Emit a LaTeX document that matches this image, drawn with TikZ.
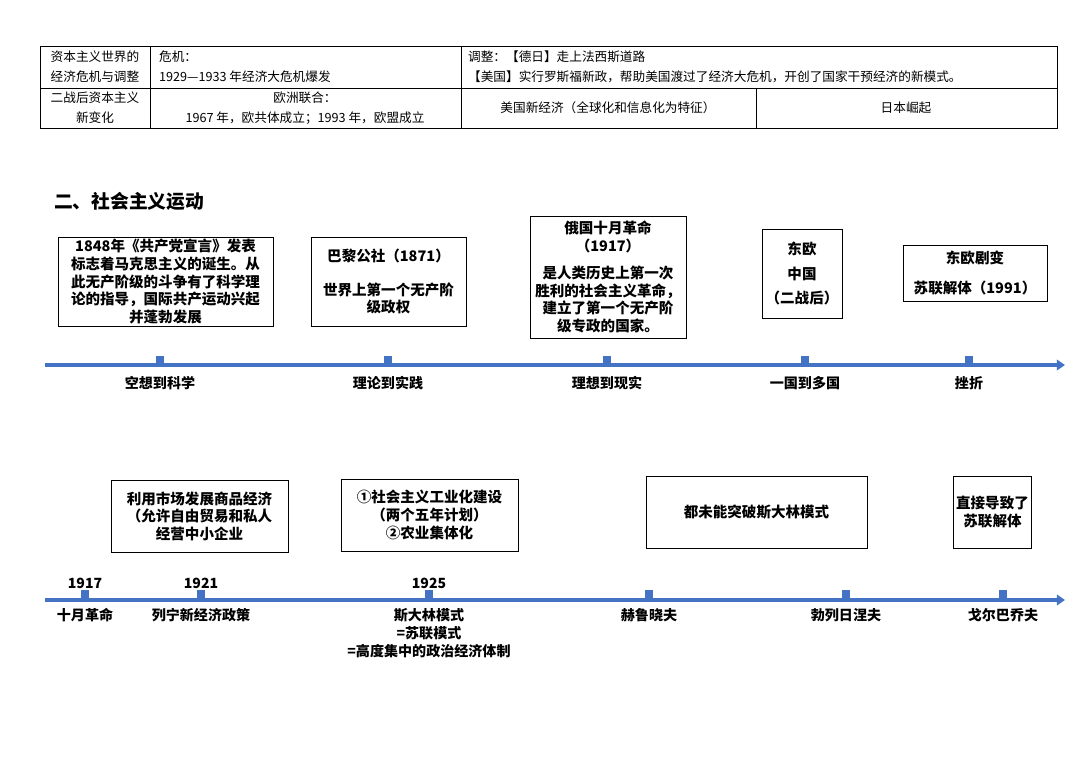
\documentclass[tikz,border=0pt]{standalone}
\usepackage{fontspec}
\setmainfont{Noto Sans CJK SC}
\usetikzlibrary{arrows.meta}
\definecolor{tlblue}{RGB}{68,114,196}
\begin{document}
\begin{tikzpicture}[x=0.03cm,y=-0.03cm,
  cell/.style={font=\fontsize{10.8}{17}\selectfont,align=center},
  bx/.style={draw,line width=0.8pt,font=\bfseries\fontsize{12.4}{15}\selectfont,align=center,inner sep=2pt},
  tl/.style={draw=tlblue,line width=3.5pt,-{Triangle[length=7pt,width=9pt]}},
  tick/.style={fill=tlblue,minimum size=6pt,inner sep=0pt},
  lab/.style={font=\bfseries\fontsize{12}{15}\selectfont,align=center},
  yr/.style={font=\bfseries\fontsize{12}{14}\selectfont}]
\useasboundingbox (0,0) rectangle (1080,763);
% table
\draw[line width=0.5pt] (40,46) rectangle (1057,128);
\draw[line width=0.5pt] (40,88) -- (1057,88) (150,46) -- (150,128) (461,46) -- (461,128) (756,88) -- (756,128);
\node[cell] (c1) at (95,67) {资本主义世界的\\经济危机与调整};
\node[cell,align=left,anchor=west] (c2) at (155,67) {危机：\\1929—1933 年经济大危机爆发};
\node[cell,align=left,anchor=west] (c3) at (464,67) {调整：【德日】走上法西斯道路\\【美国】实行罗斯福新政，帮助美国渡过了经济大危机，开创了国家干预经济的新模式。};
\node[cell] (c4) at (95,108) {二战后资本主义\\新变化};
\node[cell] (c5) at (305,108) {欧洲联合：\\1967 年，欧共体成立；1993 年，欧盟成立};
\node[cell] (c6) at (608,108) {美国新经济（全球化和信息化为特征）};
\node[cell] (c7) at (906,108) {日本崛起};
\node[anchor=west,font=\bfseries\fontsize{16}{18}\selectfont] (h) at (50,201) {二、社会主义运动};
% timeline 1
\coordinate (a0) at (45,365); \coordinate (a1) at (1065,365);
\draw[tl] (a0) -- (a1);
\foreach \x/\t [count=\i] in {160/空想到科学,388/理论到实践,607/理想到现实,805/一国到多国,969/挫折}{
  \node[tick] (t\i) at (\x,360) {};
  \node[lab] (l\i) at (\x,383) {\t};
}
\node[bx,minimum width=215*0.03cm,minimum height=89*0.03cm] (b1) at (165.5,281.5) {1848年《共产党宣言》发表\\标志着马克思主义的诞生。从\\此无产阶级的斗争有了科学理\\论的指导，国际共产运动兴起\\并蓬勃发展};
\node[bx,minimum width=155*0.03cm,minimum height=89*0.03cm] (b2) at (388.5,281.5) {巴黎公社（1871）\\[14pt]世界上第一个无产阶\\级政权};
\node[bx,minimum width=156*0.03cm,minimum height=122*0.03cm] (b3) at (608,277) {俄国十月革命\\（1917）\\[8pt]是人类历史上第一次\\胜利的社会主义革命，\\建立了第一个无产阶\\级专政的国家。};
\node[bx,minimum width=80*0.03cm,minimum height=89*0.03cm,font=\bfseries\fontsize{12.4}{12}\selectfont] (b4) at (802,273.5) {东欧\\[9pt]中国\\[9pt]（二战后）};
\node[bx,minimum width=144*0.03cm,minimum height=56*0.03cm] (b5) at (975,273) {东欧剧变\\[10pt]苏联解体（1991）};
% timeline 2
\coordinate (d0) at (45,600); \coordinate (d1) at (1065,600);
\draw[tl] (d0) -- (d1);
\foreach \x/\t [count=\i] in {85/十月革命,201/列宁新经济政策,429/斯大林模式\\=苏联模式\\=高度集中的政治经济体制,649/赫鲁晓夫,846/勃列日涅夫,1003/戈尔巴乔夫}{
  \node[tick] (s\i) at (\x,594) {};
  \node[lab,anchor=north,font=\bfseries\fontsize{12}{15.5}\selectfont] (m\i) at (\x,604) {\t};
}
\node[yr] (y1) at (85,583) {1917};
\node[yr] (y2) at (201,583) {1921};
\node[yr] (y3) at (429,583) {1925};
\node[bx,minimum width=177*0.03cm,minimum height=72*0.03cm] (e1) at (199.5,516) {利用市场发展商品经济\\（允许自由贸易和私人\\经营中小企业};
\node[bx,minimum width=177*0.03cm,minimum height=72*0.03cm] (e2) at (429.5,515) {①社会主义工业化建设\\（两个五年计划）\\②农业集体化};
\node[bx,minimum width=221*0.03cm,minimum height=72*0.03cm] (e3) at (756.5,512) {都未能突破斯大林模式};
\node[bx,minimum width=75*0.03cm,minimum height=72*0.03cm] (e4) at (992.5,512) {直接导致了\\苏联解体};
\end{tikzpicture}
\end{document}
